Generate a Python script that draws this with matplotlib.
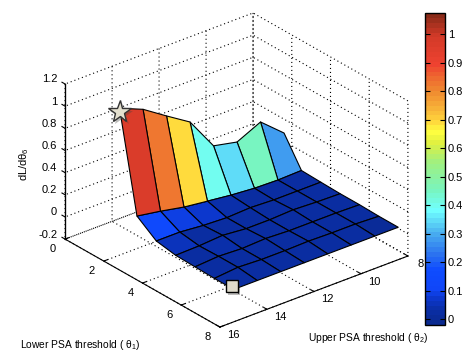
import numpy as np
import matplotlib
matplotlib.use('Agg')
import matplotlib.pyplot as plt
import matplotlib.patheffects as pe
from matplotlib.colors import LinearSegmentedColormap, Normalize
from matplotlib.cm import ScalarMappable
from matplotlib.ticker import NullFormatter
from mpl_toolkits.mplot3d import Axes3D, proj3d

plt.rcParams['font.family'] = ['Liberation Sans', 'DejaVu Sans']
plt.rcParams['mathtext.fontset'] = 'custom'
plt.rcParams['mathtext.rm'] = 'Liberation Sans'
plt.rcParams['mathtext.it'] = 'Liberation Sans'

# values
lower = [1.6, 2.5, 3.5, 4.5, 5.5, 6.5, 7.5]
upper = [15, 14, 13, 12, 11, 10, 9, 8]
dl = [
    [1.06, 0.97, 0.83, 0.695, 0.40, 0.354, 0.455, 0.275],
    [0.176, 0.14, 0.097, 0.07, 0.044, 0.026, 0.02, 0.026],
    [0.05, 0.05, 0.03, 0.02, 0.03, 0.02, 0.02, 0.02],
    [0.02, 0.025, 0.04, 0.02, 0.02, 0.03, 0.02, 0.015],
    [0.015, 0.03, 0.02, 0.03, 0.02, 0.02, 0.02, 0.015],
    [0.01, 0.03, 0.02, 0.02, 0.025, 0.02, 0.02, 0.01],
    [0.01, 0.01, 0.01, 0.01, 0.01, 0.01, 0.01, 0.01],
]
star = (1.6, 15, 1.03)
square = (7.4, 15, 0.03)

xticks = [0, 2, 4, 6, 8]
yticks = [8, 10, 12, 14, 16]
zticks = [-0.2, 0, 0.2, 0.4, 0.6, 0.8, 1, 1.2]
zlabels = ['-0.2', '0', '0.2', '0.4', '0.6', '0.8', '1', '1.2']
cbar_ticks = [0, 0.1, 0.2, 0.3, 0.4, 0.5, 0.6, 0.7, 0.8, 0.9, 1]
cbar_labels = ['0', '0.1', '0.2', '0.3', '0.4', '0.5', '0.6', '0.7', '0.8', '0.9', '1']
vmin, vmax = -0.02, 1.074

stops = [(-0.02, '#0a2a90'), (0.03, '#0a2ea8'), (0.07, '#0c38d0'), (0.1, '#1046f8'),
         (0.17, '#0f4cff'), (0.22, '#2a70f0'), (0.3, '#4ab0f0'), (0.38, '#70ffff'),
         (0.45, '#78f5c0'), (0.55, '#a0f080'), (0.62, '#e0f040'), (0.66, '#ffff40'),
         (0.70, '#ffd23c'), (0.75, '#f6ae38'), (0.8, '#f08c30'), (0.85, '#ee6a30'),
         (0.9, '#ee4230'), (1.0, '#d23a28'), (1.074, '#8a2a18')]
cmap = LinearSegmentedColormap.from_list(
    'psa', [((v - vmin) / (vmax - vmin), c) for v, c in stops], N=64)
norm = Normalize(vmin, vmax)

W, H = 471, 359
fig = plt.figure(figsize=(W / 100, H / 100), dpi=100)

S = 340
ax = fig.add_axes([61.9 / W, 14.4 / H, S / W, S / H], projection='3d', proj_type='ortho')
ax.computed_zorder = False
ax.set_box_aspect((245, 242.6, 175), zoom=1.104)
ax.view_init(elev=27.6, azim=-39.2)
ax.set_xlim(0, 8, view_margin=0)
ax.set_ylim(16, 8, view_margin=0)
ax.set_zlim(-0.2, 1.2, view_margin=0)
ax.patch.set_alpha(0)

Y, X = np.meshgrid(upper, lower)
Z = np.array(dl)
# each face takes the colour of its next vertex along the upper threshold
ax.plot_surface(X, Y, Z, rstride=1, cstride=1, facecolors=cmap(norm(Z[:, 1:])),
                edgecolor='k', linewidth=0.8, shade=False, antialiased=True, zorder=2)

shadow = [pe.SimplePatchShadow(offset=(1.5, -2), alpha=0.35), pe.Normal()]
ax.plot([star[0]], [star[1]], [star[2]], marker='*', ms=17, mfc='#e4e0cf', mec='#333333',
        mew=1, ls='none', zorder=5, path_effects=shadow)
ax.plot([square[0]], [square[1]], [square[2]], marker='s', ms=8.5, mfc='#dedacb', mec='k',
        mew=1, ls='none', zorder=5, path_effects=shadow)

ax.set_xticks(xticks)
ax.set_yticks(yticks)
ax.set_zticks(zticks)

for axis in (ax.xaxis, ax.yaxis, ax.zaxis):
    axis.set_pane_color((1, 1, 1, 0))
    axis.pane.set_edgecolor((1, 1, 1, 0))
    axis.line.set_color('k')
    axis.line.set_linewidth(0.8)
    axis._axinfo['grid'].update(color='k', linestyle=(0, (1, 2.6)), linewidth=0.8)
    axis._axinfo['tick'].update(inward_factor=0.0, outward_factor=0.25)
    axis.set_tick_params(width=0.7, color='k')
    axis.set_major_formatter(NullFormatter())
ax.zaxis.set_ticks_position('upper')

# solid z axis on the left corner
ax.plot([0, 0], [16, 16], [zticks[0], zticks[-1]], color='k', lw=0.9, zorder=1)


def tick_text(x, y, z, s, ha='center'):
    # mplot3d cannot put tick labels this close to the axes, so project them by hand
    px, py, _ = proj3d.proj_transform(x, y, z, ax.get_proj())
    ax.text2D(px, py, s, transform=ax.transData, fontsize=8, ha=ha, va='center')


for t in xticks:
    tick_text(t, 16.51, -0.25, str(t))
for t in yticks:
    tick_text(8.67, t, -0.205, str(t))
for t, s in zip(zticks, zlabels):
    tick_text(-0.41, 16, t, s, ha='right')

cax = fig.add_axes([425 / W, (H - 325) / H, 20 / W, 312 / H])
cb = fig.colorbar(ScalarMappable(norm=norm, cmap=cmap), cax=cax)
cb.set_ticks(cbar_ticks)
cb.set_ticklabels(cbar_labels)
cb.outline.set_linewidth(1)
cax.tick_params(direction='in', left=True, right=True, length=3.5, width=0.8,
                labelsize=8, pad=2)

fig.text(20 / W, 1 - 345 / H, r'Lower PSA threshold ( $\theta_1$)', fontsize=7.4, va='center')
fig.text(308 / W, 1 - 338 / H, r'Upper PSA threshold ( $\theta_2$)', fontsize=7.4, va='center')
fig.text(24 / W, 1 - 164 / H, r'dL/d$\theta_6$', fontsize=8, rotation=90, va='center', ha='center')

fig.savefig('out.png', dpi=100)
